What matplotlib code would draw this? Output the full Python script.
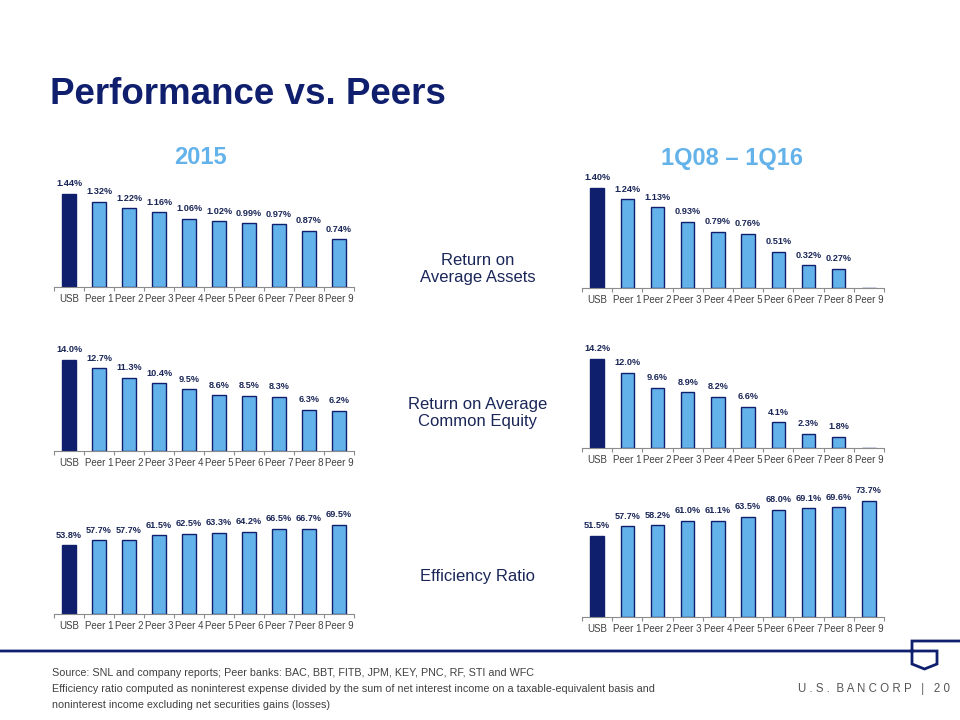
"""Performance vs. Peers slide: ROA, ROE and efficiency ratio bars."""
import matplotlib.pyplot as plt
import numpy as np
from matplotlib.path import Path
from matplotlib.patches import PathPatch

plt.rcParams['font.family'] = ['Liberation Sans', 'DejaVu Sans']

BANKS = ['USB', 'Peer 1', 'Peer 2', 'Peer 3', 'Peer 4', 'Peer 5',
         'Peer 6', 'Peer 7', 'Peer 8', 'Peer 9']

ROA_2015 = [1.44, 1.32, 1.22, 1.16, 1.06, 1.02, 0.99, 0.97, 0.87, 0.74]
ROA_LONG = [1.40, 1.24, 1.13, 0.93, 0.79, 0.76, 0.51, 0.32, 0.27, 0.0]
ROE_2015 = [14.0, 12.7, 11.3, 10.4, 9.5, 8.6, 8.5, 8.3, 6.3, 6.2]
ROE_LONG = [14.2, 12.0, 9.6, 8.9, 8.2, 6.6, 4.1, 2.3, 1.8, 0.0]
EFF_2015 = [53.8, 57.7, 57.7, 61.5, 62.5, 63.3, 64.2, 66.5, 66.7, 69.5]
EFF_LONG = [51.5, 57.7, 58.2, 61.0, 61.1, 63.5, 68.0, 69.1, 69.6, 73.7]

NAVY = '#0f1f6e'
LIGHT = '#64b2ea'
TEXT_NAVY = '#1a2658'
GREY = '#404040'

W, H = 960, 720
fig = plt.figure(figsize=(9.6, 7.2), dpi=100)


def add_panel(vals, x0, x1, base, bar_px, fmt, show=None):
    ax_h = 130
    ax = fig.add_axes([x0 / W, 1 - base / H, (x1 - x0) / W, ax_h / H])
    vals = np.array(vals)
    x = np.arange(len(vals))
    colors = [NAVY] + [LIGHT] * (len(vals) - 1)
    ax.bar(x, vals, width=0.45, color=colors, edgecolor=NAVY, linewidth=1.0)
    ax.set_xlim(-0.5, len(vals) - 0.5)
    ax.set_ylim(0, vals.max() * ax_h / bar_px)
    for i, v in enumerate(vals):
        if show is not None and not show[i]:
            continue
        ax.annotate(fmt.format(v), (i, v), xytext=(0, 4), textcoords='offset points',
                    ha='center', va='bottom', fontsize=6.6, fontweight='bold',
                    color=TEXT_NAVY)
    for s in ['top', 'right', 'left']:
        ax.spines[s].set_visible(False)
    ax.spines['bottom'].set_color('#8c8c8c')
    ax.spines['bottom'].set_linewidth(0.8)
    ax.set_yticks([])
    ax.set_xticks(x)
    ax.set_xticklabels(BANKS, fontsize=7, color=GREY)
    ax.tick_params(axis='x', which='major', length=0, pad=5)
    ax.set_xticks(np.arange(-0.5, len(vals), 1.0), minor=True)
    ax.tick_params(axis='x', which='minor', length=3, color='#8c8c8c', width=0.8)
    ax.patch.set_alpha(0)
    return ax


add_panel(ROA_2015, 54, 354, 287, 93, '{:.2f}%')
add_panel(ROA_LONG, 582, 884, 288, 100, '{:.2f}%', show=[v > 0 for v in ROA_LONG])
add_panel(ROE_2015, 54, 354, 451, 91, '{:.1f}%')
add_panel(ROE_LONG, 582, 884, 448, 89, '{:.1f}%', show=[v > 0 for v in ROE_LONG])
add_panel(EFF_2015, 54, 354, 614, 89, '{:.1f}%')
add_panel(EFF_LONG, 582, 884, 617, 116, '{:.1f}%')

# titles
fig.text(50 / W, 1 - 95 / H, 'Performance vs. Peers', fontsize=26.5, fontweight='bold',
         color=NAVY, va='center', ha='left')
fig.text(200 / W, 1 - 158 / H, '2015', fontsize=17, fontweight='bold',
         color=LIGHT, ha='center', va='center')
fig.text(732 / W, 1 - 158 / H, '1Q08 \u2013 1Q16', fontsize=17, fontweight='bold',
         color=LIGHT, ha='center', va='center')

# row labels
for label, y in [('Return on\nAverage Assets', 269),
                 ('Return on Average\nCommon Equity', 413),
                 ('Efficiency Ratio', 577)]:
    fig.text(478 / W, 1 - y / H, label, fontsize=12, color=TEXT_NAVY,
             ha='center', va='center', linespacing=1.15)

# footer rule with shield
verts = [(0, 651), (937, 651), (937, 664), (924.5, 669), (912, 664),
         (912, 641), (960, 641)]
verts = [(vx / W, 1 - vy / H) for vx, vy in verts]
path = Path(verts, [Path.MOVETO] + [Path.LINETO] * (len(verts) - 1))
fig.add_artist(PathPatch(path, fill=False, edgecolor=NAVY, linewidth=2.0,
                         transform=fig.transFigure, joinstyle='miter'))

notes = ['Source: SNL and company reports; Peer banks: BAC, BBT, FITB, JPM, KEY, PNC, RF, STI and WFC',
         'Efficiency ratio computed as noninterest expense divided by the sum of net interest income on a taxable-equivalent basis and',
         'noninterest income excluding net securities gains (losses)']
for i, line in enumerate(notes):
    fig.text(52 / W, 1 - (673 + 16 * i) / H, line, fontsize=7.75, color=GREY,
             ha='left', va='center')

fig.text(950 / W, 1 - 689 / H, 'U . S .  B A N C O R P   |   2 0', fontsize=8.3, color='#555555',
         ha='right', va='center')

fig.savefig('out.png', dpi=100)
